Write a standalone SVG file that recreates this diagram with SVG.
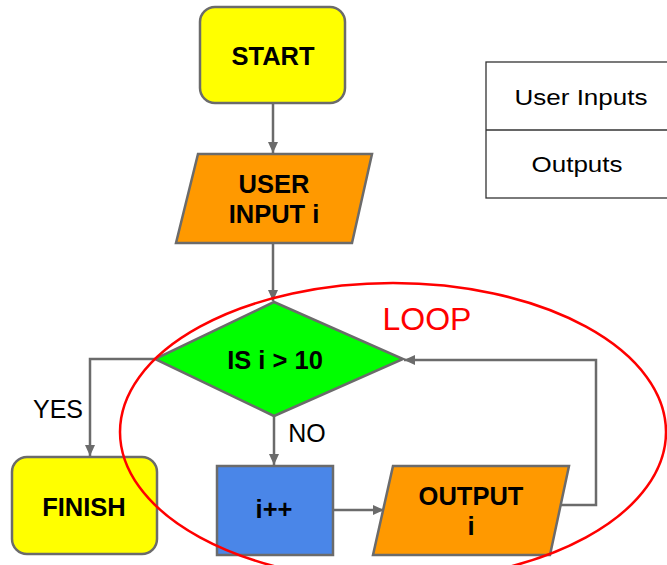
<svg xmlns="http://www.w3.org/2000/svg" width="667" height="565" viewBox="0 0 667 565">
  <defs>
    <marker id="arrow" markerWidth="12" markerHeight="12" refX="11" refY="6" orient="auto" markerUnits="userSpaceOnUse">
      <path d="M0,1 L11,6 L0,11 Z" fill="#6b6b6b"/>
    </marker>
  </defs>
  <style>
    .shape { stroke: #6b6b6b; stroke-width: 2.5; }
    .term { fill: #ffff00; }
    .io { fill: #ff9900; }
    .dec { fill: #00ff00; }
    .proc { fill: #4a86e8; }
    .lbl { font-family: "Liberation Sans", Arial, sans-serif; font-weight: bold; font-size: 25.5px; fill: #000; text-anchor: middle; }
    .txt { font-family: "Liberation Sans", Arial, sans-serif; font-size: 25px; fill: #000; text-anchor: middle; }
    .leg { font-family: "Liberation Sans", Arial, sans-serif; font-size: 22px; fill: #000; text-anchor: middle; }
    .conn { fill: none; stroke: #6b6b6b; stroke-width: 2.5; }
    .legend { fill: #fff; stroke: #333; stroke-width: 1.3; }
  </style>

  <rect width="667" height="565" fill="#ffffff"/>

  <!-- legend table -->
  <g id="legend">
    <rect class="legend" x="486" y="62" width="190" height="136"/>
    <line x1="486" y1="130" x2="676" y2="130" stroke="#333" stroke-width="1.3"/>
    <text class="leg" x="581" y="105" textLength="133" lengthAdjust="spacingAndGlyphs">User Inputs</text>
    <text class="leg" x="577" y="172" textLength="91" lengthAdjust="spacingAndGlyphs">Outputs</text>
  </g>

  <!-- connectors -->
  <g id="connectors">
    <line class="conn" x1="273" y1="104" x2="273" y2="153" marker-end="url(#arrow)"/>
    <line class="conn" x1="273" y1="243" x2="273" y2="301" marker-end="url(#arrow)"/>
    <polyline class="conn" points="155,359 90,359 90,456" marker-end="url(#arrow)"/>
    <line class="conn" x1="274" y1="416" x2="274" y2="465" marker-end="url(#arrow)"/>
    <line class="conn" x1="333" y1="510" x2="384" y2="510" marker-end="url(#arrow)"/>
    <polyline class="conn" points="561,505 596,505 596,360 404,360" marker-end="url(#arrow)"/>
    <text class="txt" x="58" y="418">YES</text>
    <text class="txt" x="307" y="442">NO</text>
  </g>

  <g id="start">
    <rect class="shape term" x="200" y="7" width="145" height="96" rx="15"/>
    <text class="lbl" x="273" y="65">START</text>
  </g>

  <g id="user-input">
    <polygon class="shape io" points="198,154 372,154 352,243 176,243"/>
    <text class="lbl" x="274" y="193">USER</text>
    <text class="lbl" x="274" y="223">INPUT i</text>
  </g>

  <g id="decision">
    <polygon class="shape dec" points="274,302 403,359 274,416 155,359"/>
    <text class="lbl" x="275" y="369">IS i &gt; 10</text>
  </g>

  <g id="finish">
    <rect class="shape term" x="12" y="457" width="145" height="97" rx="15"/>
    <text class="lbl" x="84" y="516">FINISH</text>
  </g>

  <g id="increment">
    <rect class="shape proc" x="217" y="466" width="116" height="89"/>
    <text class="lbl" x="274" y="518">i++</text>
  </g>

  <g id="output">
    <polygon class="shape io" points="393,466 569,466 550,555 373,555"/>
    <text class="lbl" x="471" y="505">OUTPUT</text>
    <text class="lbl" x="471" y="535">i</text>
  </g>

  <!-- loop annotation -->
  <g id="loop">
    <ellipse cx="393" cy="432" rx="273" ry="149" fill="none" stroke="#ff0000" stroke-width="2.5"/>
    <text x="427" y="330" font-family="'Liberation Sans', Arial, sans-serif" font-size="32" fill="#ff0000" text-anchor="middle">LOOP</text>
  </g>
</svg>
